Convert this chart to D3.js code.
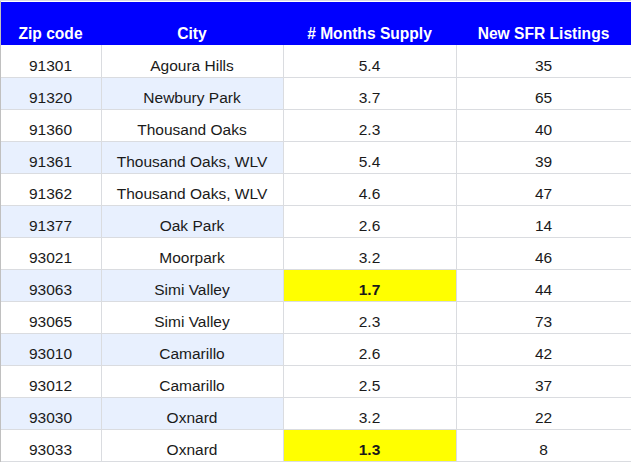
<!DOCTYPE html>
<html>
<head>
<meta charset="utf-8">
<script src="https://cdn.jsdelivr.net/npm/d3@7"></script>
<style>
  html, body { margin: 0; padding: 0; background: #ffffff; }
  svg { display: block; }
</style>
</head>
<body>
<div id="chart"></div>
<script>
// table data
const headers = ["Zip code", "City", "# Months Supply", "New SFR Listings"];
const zips = ["91301", "91320", "91360", "91361", "91362", "91377", "93021", "93063", "93065", "93010", "93012", "93030", "93033"];
const cities = ["Agoura Hills", "Newbury Park", "Thousand Oaks", "Thousand Oaks, WLV", "Thousand Oaks, WLV",
    "Oak Park", "Moorpark", "Simi Valley", "Simi Valley", "Camarillo", "Camarillo", "Oxnard", "Oxnard"];
const supply = ["5.4", "3.7", "2.3", "5.4", "4.6", "2.6", "3.2", "1.7", "2.3", "2.6", "2.5", "3.2", "1.3"];
const listings = [35, 65, 40, 39, 47, 14, 46, 44, 73, 42, 37, 22, 8];
const highlighted = [false, false, false, false, false, false, false, true, false, false, false, false, true];

const width = 631, height = 462;
const headerTop = 2, headerBottom = 45;
const colEdges = [0, 101, 283, 456, 631];

const svg = d3.select("#chart").append("svg")
    .attr("width", width)
    .attr("height", height)
    .style("font-family", "Arial, 'Liberation Sans', sans-serif");

const rowScale = d3.scaleBand()
    .domain(d3.range(zips.length))
    .range([headerBottom, headerBottom + 32 * zips.length]);

const rows = zips.map((z, i) => [z, cities[i], supply[i], String(listings[i])]);

// header
svg.append("rect")
    .attr("x", 0).attr("y", headerTop)
    .attr("width", width).attr("height", headerBottom - headerTop)
    .attr("fill", "#0000ff");

svg.selectAll("text.header")
    .data(headers)
    .enter().append("text")
    .attr("class", "header")
    .attr("x", (d, i) => (colEdges[i] + colEdges[i + 1]) / 2)
    .attr("y", 39)
    .attr("text-anchor", "middle")
    .attr("fill", "#ffffff")
    .style("font-weight", "bold")
    .style("font-size", "15.6px")
    .text(d => d);

// cell backgrounds
const rowG = svg.selectAll("g.row")
    .data(rows)
    .enter().append("g")
    .attr("class", "row")
    .attr("transform", (d, i) => `translate(0,${rowScale(i)})`);

rowG.each(function (row, i) {
    const g = d3.select(this);
    row.forEach((val, c) => {
        let fill = "#ffffff";
        if (i % 2 === 1 && c < 2) fill = "#e8f0fe";
        if (c === 2 && highlighted[i]) fill = "#ffff00";
        g.append("rect")
            .attr("x", colEdges[c])
            .attr("y", 0)
            .attr("width", colEdges[c + 1] - colEdges[c])
            .attr("height", rowScale.bandwidth())
            .attr("fill", fill);
        g.append("text")
            .attr("x", (colEdges[c] + colEdges[c + 1]) / 2)
            .attr("y", 26)
            .attr("text-anchor", "middle")
            .attr("fill", "#1a1a1a")
            .style("font-size", "15.5px")
            .style("font-weight", (c === 2 && highlighted[i]) ? "bold" : "normal")
            .text(val);
    });
});

// grid lines
const gridBottom = headerBottom + 32 * zips.length;
svg.selectAll("line.hgrid")
    .data(d3.range(1, zips.length + 1))
    .enter().append("line")
    .attr("class", "hgrid")
    .attr("x1", 0).attr("x2", width)
    .attr("y1", d => rowScale(d - 1) + rowScale.bandwidth() + 0.5)
    .attr("y2", d => rowScale(d - 1) + rowScale.bandwidth() + 0.5)
    .attr("stroke", "#dadce0");

svg.selectAll("line.vgrid")
    .data(colEdges.slice(1, -1))
    .enter().append("line")
    .attr("class", "vgrid")
    .attr("x1", d => d + 0.5).attr("x2", d => d + 0.5)
    .attr("y1", headerBottom).attr("y2", gridBottom)
    .attr("stroke", "#dadce0");

// left edge and top line
svg.append("line")
    .attr("x1", 0.5).attr("x2", 0.5)
    .attr("y1", 0).attr("y2", height)
    .attr("stroke", "#c0c0c0");
svg.append("line")
    .attr("x1", 0).attr("x2", width)
    .attr("y1", 0.5).attr("y2", 0.5)
    .attr("stroke", "#dadce0");
</script>
</body>
</html>
